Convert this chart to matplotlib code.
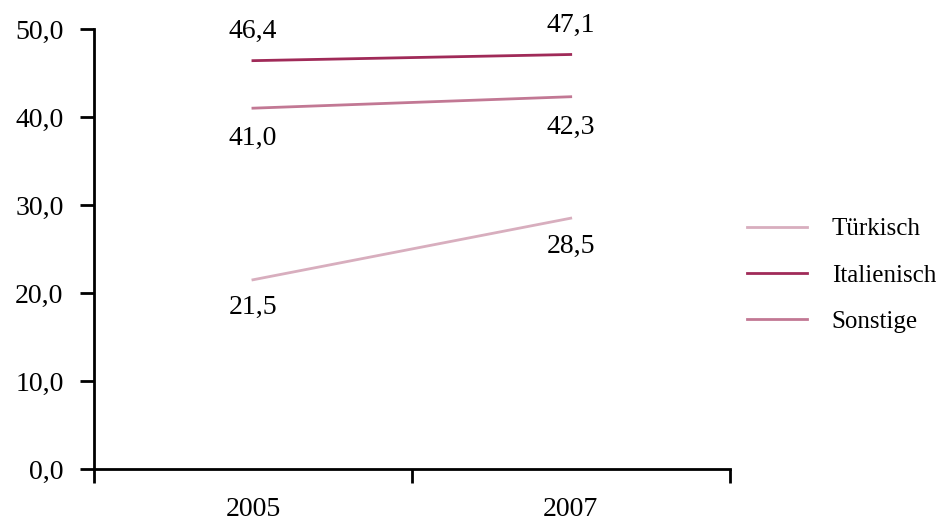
import matplotlib.pyplot as plt
from matplotlib.ticker import FixedLocator

# data
years = ["2005", "2007"]
tuerkisch = [21.5, 28.5]
italienisch = [46.4, 47.1]
sonstige = [41.0, 42.3]
y_ticks = [0, 10, 20, 30, 40, 50]

plt.rcParams['font.family'] = ['Liberation Serif', 'DejaVu Serif']

fig = plt.figure(figsize=(9.5, 5.22), dpi=100)
ax = fig.add_axes([0.099, 0.1015, 0.669, 0.843])

x = list(range(len(years)))
ax.plot(x, tuerkisch, color='#d8aebe', lw=2, label='Türkisch')
ax.plot(x, italienisch, color='#a02a58', lw=2, label='Italienisch')
ax.plot(x, sonstige, color='#c27894', lw=2, label='Sonstige')

def fmt(v):
    return f"{v:.1f}".replace('.', ',')

# value labels: above for the top line, below for the others
for i in x:
    ax.annotate(fmt(italienisch[i]), (i, italienisch[i]), xytext=(0, 12),
                textcoords='offset points', ha='center', va='bottom', fontsize=20)
    ax.annotate(fmt(sonstige[i]), (i, sonstige[i]), xytext=(0, -13),
                textcoords='offset points', ha='center', va='top', fontsize=20)
    ax.annotate(fmt(tuerkisch[i]), (i, tuerkisch[i]), xytext=(0, -11),
                textcoords='offset points', ha='center', va='top', fontsize=20)

ax.set_xlim(-0.5, 1.5)
ax.set_ylim(0, 50)
ax.set_xticks(x)
ax.set_xticklabels(years)
ax.xaxis.set_minor_locator(FixedLocator([-0.5, 0.5, 1.5]))
ax.tick_params(axis='x', which='major', length=0, pad=20, labelsize=20)
ax.tick_params(axis='x', which='minor', length=10, width=2)
ax.set_yticks(y_ticks)
ax.set_yticklabels([fmt(v) for v in y_ticks])
ax.tick_params(axis='y', length=10, width=2, pad=12, labelsize=20)

for s in ['top', 'right']:
    ax.spines[s].set_visible(False)
for s in ['left', 'bottom']:
    ax.spines[s].set_linewidth(2)

ax.legend(loc='center left', bbox_to_anchor=(1.027, 0.44), frameon=False, fontsize=18,
          handlelength=2.4, handletextpad=1.0, labelspacing=0.95, borderpad=0,
          borderaxespad=0)

plt.savefig('out.png', dpi=100)
